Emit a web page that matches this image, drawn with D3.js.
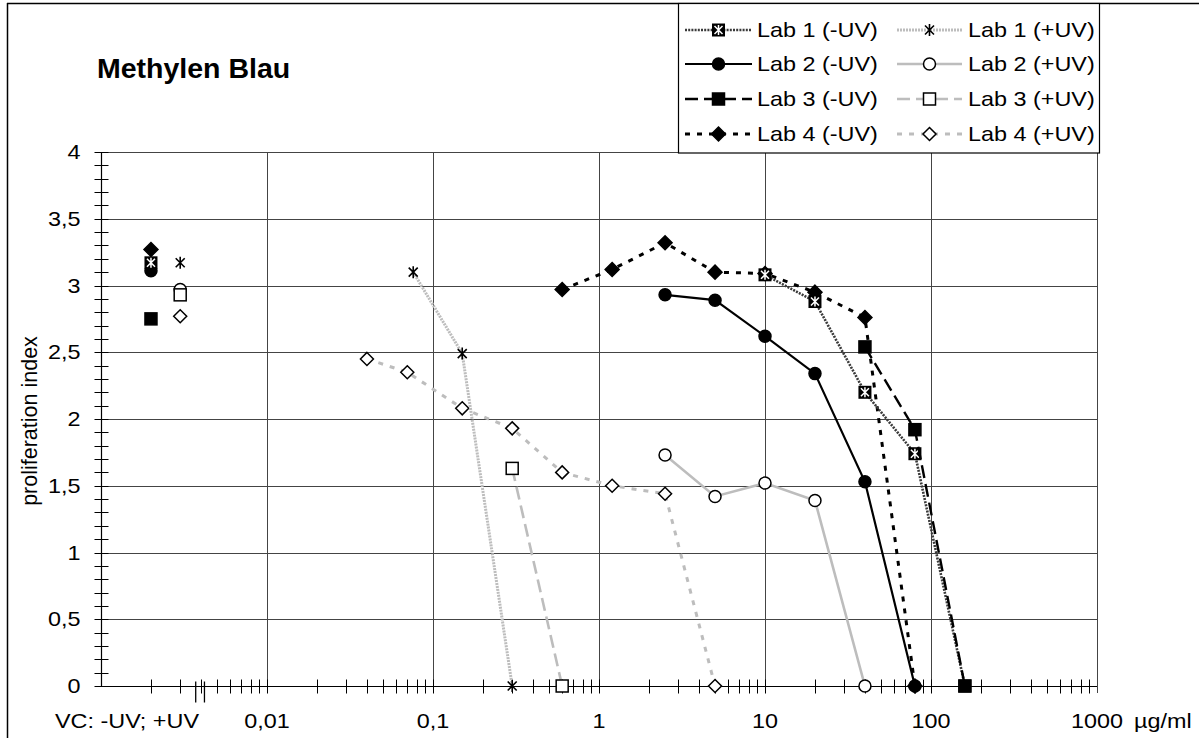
<!DOCTYPE html>
<html>
<head>
<meta charset="utf-8">
<script src="https://cdn.jsdelivr.net/npm/d3@7"></script>
<style>
  html, body { margin: 0; padding: 0; background: #fff; }
  svg { display: block; font-family: "Liberation Sans", Arial, sans-serif; }
</style>
</head>
<body>
<svg id="chart" width="1199" height="738"></svg>
<script>
// Proliferation index vs. concentration (µg/ml), four labs, with and without UV.
const lab1MinusDose = [10, 20, 40, 80, 160];
const lab1MinusIdx  = [3.08, 2.88, 2.20, 1.74, 0];
const lab1PlusDose  = [0.076, 0.15, 0.3];
const lab1PlusIdx   = [3.10, 2.49, 0];
const lab2MinusDose = [2.5, 5, 10, 20, 40, 80];
const lab2MinusIdx  = [2.93, 2.89, 2.62, 2.34, 1.53, 0];
const lab2PlusDose  = [2.5, 5, 10, 20, 40];
const lab2PlusIdx   = [1.73, 1.42, 1.52, 1.39, 0];
const lab3MinusDose = [40, 80, 160];
const lab3MinusIdx  = [2.54, 1.92, 0];
const lab3PlusDose  = [0.3, 0.6];
const lab3PlusIdx   = [1.63, 0];
const lab4MinusDose = [0.6, 1.2, 2.5, 5, 10, 20, 40, 80];
const lab4MinusIdx  = [2.97, 3.12, 3.32, 3.10, 3.09, 2.95, 2.76, 0];
const lab4PlusDose  = [0.04, 0.07, 0.15, 0.3, 0.6, 1.2, 2.5, 5];
const lab4PlusIdx   = [2.45, 2.35, 2.08, 1.93, 1.60, 1.50, 1.44, 0];

// Vehicle controls (Lab 1..4), shown left of the concentration range
const vcMinusIdx = [3.17, 3.11, 2.75, 3.27];
const vcPlusIdx  = [3.17, 2.97, 2.93, 2.77];
const vcMinusPos = 0.002;
const vcPlusPos  = 0.003;

const xTickValues = [0.01, 0.1, 1, 10, 100, 1000];
const xTickLabels = ["0,01", "0,1", "1", "10", "100", "1000"];
const yTickValues = [0, 0.5, 1, 1.5, 2, 2.5, 3, 3.5, 4];
const yTickLabels = ["0", "0,5", "1", "1,5", "2", "2,5", "3", "3,5", "4"];

const legendNames = ["Lab 1 (-UV)", "Lab 1 (+UV)", "Lab 2 (-UV)", "Lab 2 (+UV)",
                     "Lab 3 (-UV)", "Lab 3 (+UV)", "Lab 4 (-UV)", "Lab 4 (+UV)"];

const svg = d3.select("#chart");
const W = 1199, H = 738;
const plot = { left: 101, right: 1097, top: 152, bottom: 686 };

const x = d3.scaleLog().domain([0.001, 1000]).range([plot.left, plot.right]);
const y = d3.scaleLinear().domain([0, 4]).range([plot.bottom, plot.top]);

const FONT = 20;
const SX = 1.17;   // labels use a slightly widened face

// place a horizontally widened label at (px, py)
function label(g, px, py, str, anchor, size) {
  return g.append("text")
    .attr("transform", `translate(${px},${py}) scale(${SX},1)`)
    .attr("text-anchor", anchor || "start")
    .attr("font-size", size || FONT)
    .text(str);
}

// outer frame
svg.append("line").attr("x1", 7.5).attr("x2", 7.5).attr("y1", 3).attr("y2", H)
  .attr("stroke", "#000").attr("stroke-width", 1.5);
svg.append("line").attr("x1", 7).attr("x2", W).attr("y1", 3.5).attr("y2", 3.5)
  .attr("stroke", "#000").attr("stroke-width", 1.5);

// grid
const grid = svg.append("g");
grid.selectAll("line.h").data(yTickValues.filter(v => v > 0)).join("line")
  .attr("x1", plot.left).attr("x2", plot.right)
  .attr("y1", d => Math.round(y(d)) + 0.5).attr("y2", d => Math.round(y(d)) + 0.5)
  .attr("stroke", "#444").attr("stroke-width", 1);
grid.selectAll("line.v").data(xTickValues).join("line")
  .attr("x1", d => Math.round(x(d)) + 0.5).attr("x2", d => Math.round(x(d)) + 0.5)
  .attr("y1", plot.top).attr("y2", plot.bottom + 7)
  .attr("stroke", "#444").attr("stroke-width", 1);

// y axis with minor ticks every 0.1
const yAxisG = svg.append("g").attr("transform", `translate(${plot.left + 0.5},0)`);
yAxisG.append("line").attr("y1", plot.top).attr("y2", plot.bottom).attr("stroke", "#000").attr("stroke-width", 1.2);
const yMinor = d3.range(0, 41).map(i => i / 10);
yAxisG.selectAll("line.t").data(yMinor).join("line")
  .attr("x1", -7).attr("x2", 7)
  .attr("y1", d => Math.round(y(d)) + 0.5).attr("y2", d => Math.round(y(d)) + 0.5)
  .attr("stroke", "#000").attr("stroke-width", 1);
yTickValues.forEach((v, i) => label(yAxisG, -21, y(v) + 7, yTickLabels[i], "end"));

// x axis (log) with minor ticks
const xAxisG = svg.append("g").attr("transform", `translate(0,${plot.bottom + 0.5})`);
xAxisG.append("line").attr("x1", plot.left).attr("x2", plot.right).attr("stroke", "#000").attr("stroke-width", 1.2);
const xMinor = x.ticks().filter(v => v > 0.001 && v < 1000);
xAxisG.selectAll("line.t").data(xMinor).join("line")
  .attr("x1", d => Math.round(x(d)) + 0.5).attr("x2", d => Math.round(x(d)) + 0.5)
  .attr("y1", -7).attr("y2", 7)
  .attr("stroke", "#000").attr("stroke-width", 1);
xTickValues.forEach((v, i) => label(xAxisG, x(v), 41, xTickLabels[i], "middle"));
// axis break marks between the control group and the concentration range
xAxisG.selectAll("line.brk").data([0.00372, 0.0042]).join("line")
  .attr("x1", d => x(d)).attr("x2", d => x(d)).attr("y1", -5).attr("y2", 16)
  .attr("stroke", "#000").attr("stroke-width", 1.3);
label(xAxisG, 55, 41, "VC: -UV; +UV");
label(xAxisG, 1134, 41, "µg/ml");

// y title
svg.append("text").attr("transform", `translate(37,${(plot.top + plot.bottom) / 2 + 2}) rotate(-90)`)
  .attr("text-anchor", "middle").attr("font-size", 21.5).text("proliferation index");

// title
svg.append("text").attr("x", 97).attr("y", 78).attr("font-size", 28.5).attr("font-weight", "bold")
  .text("Methylen Blau");

// marker shapes
function marker(g, type, cx, cy) {
  const m = g.append("g").attr("transform", `translate(${cx},${cy})`);
  if (type === "sqX") {
    m.append("rect").attr("x", -6.5).attr("y", -6.5).attr("width", 13).attr("height", 13).attr("fill", "#000");
    m.append("path").attr("d", "M-4,-4L4,4M4,-4L-4,4M0,-5L0,5").attr("stroke", "#fff").attr("stroke-width", 1.5);
  } else if (type === "star") {
    m.append("path").attr("d", "M-4.5,-4.5L4.5,4.5M4.5,-4.5L-4.5,4.5M0,-6L0,6").attr("stroke", "#000").attr("stroke-width", 1.6);
  } else if (type === "circle" || type === "circleO") {
    m.append("circle").attr("r", 6).attr("fill", type === "circle" ? "#000" : "#fff")
      .attr("stroke", "#000").attr("stroke-width", 1.5);
  } else if (type === "square" || type === "squareO") {
    m.append("rect").attr("x", -6).attr("y", -6).attr("width", 12).attr("height", 12)
      .attr("fill", type === "square" ? "#000" : "#fff").attr("stroke", "#000").attr("stroke-width", 1.5);
  } else if (type === "diamond" || type === "diamondO") {
    const r = type === "diamond" ? 7 : 6.5;
    m.append("path").attr("d", `M0,${-r}L${r},0L0,${r}L${-r},0Z`)
      .attr("fill", type === "diamond" ? "#000" : "#fff").attr("stroke", "#000").attr("stroke-width", 1.5);
  }
}

const series = [
  { name: legendNames[0], dose: lab1MinusDose, idx: lab1MinusIdx, vc: vcMinusIdx[0], vcPos: vcMinusPos, color: "#3a3a3a", width: 2.6, dash: "2,1.2", mk: "sqX" },
  { name: legendNames[1], dose: lab1PlusDose,  idx: lab1PlusIdx,  vc: vcPlusIdx[0],  vcPos: vcPlusPos,  color: "#bdbdbd", width: 3,   dash: "2,1",   mk: "star" },
  { name: legendNames[2], dose: lab2MinusDose, idx: lab2MinusIdx, vc: vcMinusIdx[1], vcPos: vcMinusPos, color: "#000",    width: 2.2, dash: null,    mk: "circle" },
  { name: legendNames[3], dose: lab2PlusDose,  idx: lab2PlusIdx,  vc: vcPlusIdx[1],  vcPos: vcPlusPos,  color: "#bdbdbd", width: 2.6, dash: null,    mk: "circleO" },
  { name: legendNames[4], dose: lab3MinusDose, idx: lab3MinusIdx, vc: vcMinusIdx[2], vcPos: vcMinusPos, color: "#000",    width: 2.4, dash: "13,6",  mk: "square" },
  { name: legendNames[5], dose: lab3PlusDose,  idx: lab3PlusIdx,  vc: vcPlusIdx[2],  vcPos: vcPlusPos,  color: "#bdbdbd", width: 2.6, dash: "13,6",  mk: "squareO" },
  { name: legendNames[6], dose: lab4MinusDose, idx: lab4MinusIdx, vc: vcMinusIdx[3], vcPos: vcMinusPos, color: "#000",    width: 3,   dash: "5,7",   mk: "diamond" },
  { name: legendNames[7], dose: lab4PlusDose,  idx: lab4PlusIdx,  vc: vcPlusIdx[3],  vcPos: vcPlusPos,  color: "#bdbdbd", width: 3,   dash: "5,7",   mk: "diamondO" }
];

const line = d3.line().x(d => x(d[0])).y(d => y(d[1]));
// paint order: Lab 4, Lab 2, Lab 1, Lab 3 — +UV series first
const order = [7, 3, 1, 5, 6, 2, 0, 4];
const dataG = svg.append("g");
order.forEach(i => {
  const s = series[i];
  const pts = s.dose.map((d, k) => [d, s.idx[k]]);
  const g = dataG.append("g");
  g.append("path").attr("d", line(pts)).attr("fill", "none")
    .attr("stroke", s.color).attr("stroke-width", s.width)
    .attr("stroke-dasharray", s.dash);
  pts.forEach(p => marker(g, s.mk, x(p[0]), y(p[1])));
  marker(g, s.mk, x(s.vcPos), y(s.vc));
});

// legend
const leg = svg.append("g");
leg.append("rect").attr("x", 678.5).attr("y", 3.5).attr("width", 421).attr("height", 149.5)
  .attr("fill", "#fff").attr("stroke", "#000").attr("stroke-width", 1.2);
const colX = [{ l: 685, r: 752, t: 757 }, { l: 897, r: 962, t: 968 }];
const rowY = [30, 64, 99, 134];
series.forEach((s, i) => {
  const c = colX[i % 2], ry = rowY[Math.floor(i / 2)];
  const g = leg.append("g");
  g.append("line").attr("x1", c.l).attr("x2", c.r).attr("y1", ry).attr("y2", ry)
    .attr("stroke", s.color).attr("stroke-width", s.width).attr("stroke-dasharray", s.dash);
  marker(g, s.mk, (c.l + c.r) / 2, ry);
  label(g, c.t, ry + 7, s.name);
});
</script>
</body>
</html>
